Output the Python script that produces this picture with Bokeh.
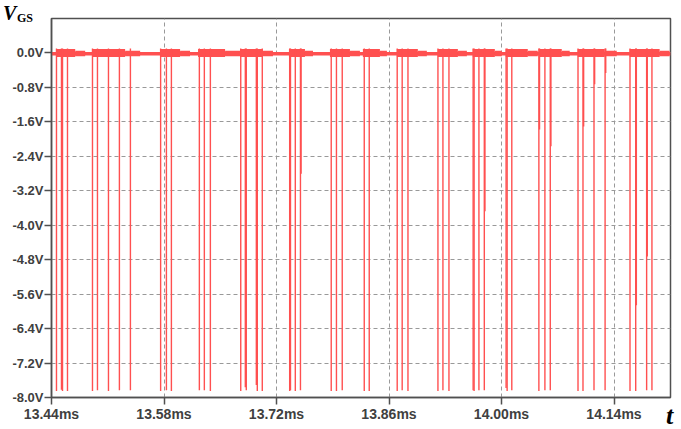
from bokeh.plotting import figure
from bokeh.models import FixedTicker, PrintfTickFormatter, Range1d, GridBox, Div
from bokeh.embed import file_html
from bokeh.resources import INLINE

# ---- data ----
x_ticks = [13.44, 13.58, 13.72, 13.86, 14.00, 14.14]
y_ticks = [0.0, -0.8, -1.6, -2.4, -3.2, -4.0, -4.8, -5.6, -6.4, -7.2, -8.0]

# full-depth switching spikes (time in ms, minimum in V)
spike_t = [13.4462, 13.4524, 13.4537, 13.4599, 13.4910, 13.4972, 13.5109, 13.5245,
           13.5382, 13.5758, 13.5830, 13.5892, 13.6240, 13.6302, 13.6377, 13.6755,
           13.6812, 13.6824, 13.6949, 13.6961, 13.7023, 13.7364, 13.7374, 13.7434,
           13.7498, 13.7881, 13.7946, 13.8018, 13.8292, 13.8354, 13.8702, 13.8764,
           13.8836, 13.9209, 13.9271, 13.9346, 13.9647, 13.9659, 13.9719, 13.9786,
           14.0057, 14.0070, 14.0128, 14.0465, 14.0540, 14.0607, 14.0952, 14.1014,
           14.1151, 14.1289, 14.1599, 14.1670, 14.1806, 14.1872]
spike_v = [-7.85, -7.82, -7.85, -7.85, -7.85, -7.83, -7.85, -7.83,
           -7.83, -7.85, -7.83, -7.85, -7.83, -7.83, -7.85, -7.85,
           -7.76, -7.83, -7.71, -7.85, -7.85, -7.85, -7.83, -7.85,
           -7.83, -7.85, -7.85, -7.83, -7.85, -7.85, -7.85, -7.83,
           -7.85, -7.85, -7.83, -7.85, -7.83, -7.85, -7.83, -7.83,
           -7.78, -7.85, -7.83, -7.85, -7.83, -7.83, -7.85, -7.85,
           -7.83, -7.83, -7.85, -7.85, -7.83, -7.83]

# partial (shallower) spikes right next to some of the full ones
partial_t = [13.7506, 13.9794, 14.0473, 14.0615, 14.1022, 14.1159, 14.1297, 14.1678, 14.1814]
partial_v = [-2.81, -3.68, -1.78, -2.17, -1.71, -0.73, -0.47, -5.86, -4.73]

# ringing bands after each burst (start, end of strong part, end of tail) in ms
ring_start = [13.4458, 13.4906, 13.5751, 13.6224, 13.6746, 13.7355, 13.7865, 13.8275,
              13.8698, 13.9208, 13.9643, 14.0053, 14.0476, 14.0949, 14.1595]
ring_mid = [13.4695, 13.5316, 13.6000, 13.6560, 13.7020, 13.7554, 13.8114, 13.8487,
            13.8959, 13.9457, 13.9917, 14.0327, 14.0750, 14.1284, 14.1968]
ring_end = [13.4819, 13.5503, 13.6124, 13.6746, 13.7156, 13.7654, 13.8238, 13.8574,
            13.9071, 13.9569, 14.0004, 14.0451, 14.0849, 14.1434, 14.2092]

baseline_v = -0.02
ring_top, ring_bot = 0.09, -0.10
tail_top, tail_bot = 0.05, -0.08
spike_top = 0.10

RED = "#ff5050"
AXIS = "#505050"
TXT = "#404040"
W, H = 678, 428

p = figure(width=W, height=H, output_backend="svg", toolbar_location=None,
           x_range=Range1d(13.44, 14.2103), y_range=Range1d(-8.0, 0.796),
           min_border_left=51, min_border_right=8, min_border_top=18, min_border_bottom=31,
           background_fill_color="white", border_fill_color="white")

# baseline
p.line(x=[13.44, 14.2103], y=[baseline_v, baseline_v], line_color=RED, line_width=3.5)
# ringing bands
p.quad(left=ring_start, right=ring_mid, top=[ring_top] * len(ring_start),
       bottom=[ring_bot] * len(ring_start), fill_color=RED, line_color=None)
p.quad(left=ring_mid, right=ring_end, top=[tail_top] * len(ring_mid),
       bottom=[tail_bot] * len(ring_mid), fill_color=RED, line_color=None)
# spikes
p.segment(x0=spike_t, y0=[spike_top] * len(spike_t), x1=spike_t, y1=spike_v,
          line_color=RED, line_width=1.4)
p.segment(x0=partial_t, y0=[spike_top] * len(partial_t), x1=partial_t, y1=partial_v,
          line_color=RED, line_width=1.4)

# axes
p.xaxis.ticker = FixedTicker(ticks=x_ticks, minor_ticks=[])
p.yaxis.ticker = FixedTicker(ticks=y_ticks, minor_ticks=[])
p.xaxis.formatter = PrintfTickFormatter(format="%.2fms")
p.yaxis.formatter = PrintfTickFormatter(format="%.1fV")
for ax in (p.xaxis, p.yaxis):
    ax.major_label_text_font = "Liberation Sans"
    ax.major_label_text_font_style = "bold"
    ax.major_label_text_color = TXT
    ax.axis_line_color = AXIS
    ax.axis_line_width = 1.5
    ax.major_tick_line_color = AXIS
    ax.major_tick_line_width = 1.5
    ax.major_tick_out = 7
    ax.major_tick_in = 0
    ax.minor_tick_out = 0
    ax.minor_tick_in = 0
p.xaxis.major_label_text_font_size = "14px"
p.yaxis.major_label_text_font_size = "13px"
p.xaxis.major_label_standoff = 1
p.yaxis.major_label_standoff = 1

p.grid.grid_line_color = "#999999"
p.grid.grid_line_dash = "4 3"
p.grid.grid_line_width = 1
p.outline_line_color = AXIS
p.outline_line_width = 1.5
p.outline_line_alpha = 1.0

# axis titles as a transparent text layer over the plot
serif = "'Liberation Serif', 'Times New Roman', serif"
titles_html = (
    f'<div style="position:relative;width:{W}px;height:{H}px;pointer-events:none;">'
    f'<span style="position:absolute;left:3px;top:3px;line-height:1;font:bold italic 20px/1 {serif};color:#000;">V</span>'
    f'<span style="position:absolute;left:17px;top:12px;line-height:1;font:bold 12px/1 {serif};color:#000;">GS</span>'
    f'<span style="position:absolute;left:666px;top:403px;line-height:1;font:bold italic 26px/1 {serif};color:#000;">t</span>'
    '</div>'
)
titles = Div(text=titles_html, width=W, height=H, margin=0)

layout = GridBox(children=[(p, 0, 0), (titles, 0, 0)])
open("out.html", "w").write(file_html(layout, INLINE))
